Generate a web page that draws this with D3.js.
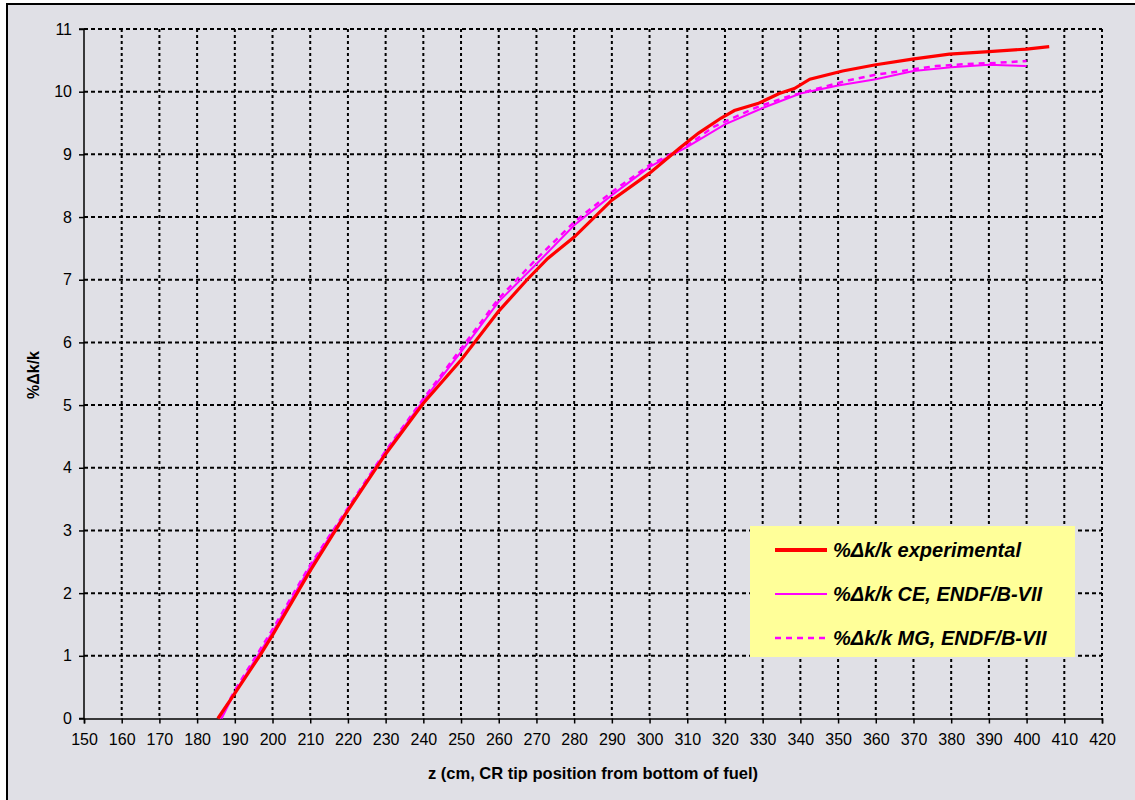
<!DOCTYPE html>
<html>
<head>
<meta charset="utf-8">
<script src="https://cdn.jsdelivr.net/npm/d3@7"></script>
<style>
html,body{margin:0;padding:0;background:#fff;}
svg{display:block;}
text{font-family:"Liberation Sans",Arial,sans-serif;}
</style>
</head>
<body>
<svg id="chart" width="1135" height="800"></svg>
<script>
// ---- data ----
const xTicks = [150,160,170,180,190,200,210,220,230,240,250,260,270,280,290,300,310,320,330,340,350,360,370,380,390,400,410,420];
const yTicks = [0,1,2,3,4,5,6,7,8,9,10,11];
const seriesNames = ["%\u0394k/k experimental", "%\u0394k/k CE, ENDF/B-VII", "%\u0394k/k MG, ENDF/B-VII"];

const expZ = [185.5,190,196.6,200,210,220,230,240,250,260,267.5,273,280,290,300,308,313,319,322.5,328.7,334.4,338.4,342.5,351.2,360,369.7,379.5,390,400,406];
const expV = [0,0.40,1.0,1.33,2.36,3.32,4.22,5.03,5.72,6.50,7.0,7.34,7.68,8.27,8.70,9.10,9.34,9.58,9.70,9.81,9.97,10.05,10.20,10.33,10.43,10.52,10.60,10.64,10.68,10.72];

const ceZ = [186.5,190,200,210,220,230,240,250,260,270,280,290,300,310,320,330,340,350,360,370,380,390,400];
const ceV = [0,0.42,1.38,2.42,3.34,4.25,5.07,5.85,6.65,7.25,7.87,8.35,8.80,9.12,9.48,9.74,9.97,10.10,10.20,10.33,10.39,10.43,10.41];

const mgZ = [186,190,200,210,220,230,240,250,260,270,280,290,300,310,317,328,336,344,352,360,368,376,384,392,400];
const mgV = [0,0.45,1.42,2.45,3.36,4.27,5.10,5.90,6.70,7.33,7.92,8.40,8.83,9.14,9.44,9.74,9.91,10.04,10.17,10.27,10.34,10.41,10.44,10.46,10.49];

// ---- layout ----
const svg = d3.select("#chart");
const L = 84, R = 1102, T = 29, B = 718.5;
const x = d3.scaleLinear().domain([150,420]).range([L,R]);
const y = d3.scaleLinear().domain([0,11]).range([B,T]);

// background + border
svg.append("rect").attr("x",7).attr("y",4).attr("width",1135).attr("height",800)
  .attr("fill","#e0e0e6").attr("stroke","#000").attr("stroke-width",2);

// grid
const grid = svg.append("g");
grid.selectAll("line.v").data(xTicks.slice(1)).enter().append("line")
  .attr("x1",d=>x(d)).attr("x2",d=>x(d)).attr("y1",T).attr("y2",B)
  .attr("stroke","#000").attr("stroke-width",2).attr("stroke-dasharray","3,3");
grid.selectAll("line.h").data(yTicks.slice(1)).enter().append("line")
  .attr("x1",L).attr("x2",R).attr("y1",d=>y(d)).attr("y2",d=>y(d))
  .attr("stroke","#000").attr("stroke-width",2).attr("stroke-dasharray","4,3");

// axes
const xAxis = d3.axisBottom(x).tickValues(xTicks).tickSize(5).tickPadding(10).tickFormat(d3.format("d"));
const yAxis = d3.axisLeft(y).tickValues(yTicks).tickSize(5).tickPadding(7).tickFormat(d3.format("d"));
const gx = svg.append("g").attr("transform",`translate(0,${B})`).call(xAxis);
const gy = svg.append("g").attr("transform",`translate(${L},0)`).call(yAxis);
[gx,gy].forEach(g=>{
  g.select(".domain").attr("stroke","#000").attr("stroke-width",1.5);
  g.selectAll(".tick line").attr("stroke","#000").attr("stroke-width",1.5);
  g.selectAll(".tick text").attr("font-size",16).attr("fill","#000")
    .attr("font-family","'Liberation Sans',Arial,sans-serif");
});
gy.select(".domain").attr("d",`M${-5},${B}H0V${T}H-5`);

// axis titles
svg.append("text").attr("x",593).attr("y",779).attr("text-anchor","middle")
  .attr("font-size",16.5).attr("font-weight","bold").text("z (cm, CR tip position from bottom of fuel)");
svg.append("text").attr("transform","translate(39,375) rotate(-90)").attr("text-anchor","middle")
  .attr("font-size",16).attr("font-weight","bold").text("%\u0394k/k");

// lines
const line = d3.line().x(d=>x(d[0])).y(d=>y(d[1]));
const expData = d3.zip(expZ,expV), ceData = d3.zip(ceZ,ceV), mgData = d3.zip(mgZ,mgV);
const plot = svg.append("g");
plot.append("path").datum(mgData).attr("d",line).attr("fill","none")
  .attr("stroke","#ff00ff").attr("stroke-width",2.5).attr("stroke-dasharray","6,5");
plot.append("path").datum(ceData).attr("d",line).attr("fill","none")
  .attr("stroke","#ff00ff").attr("stroke-width",2);
plot.append("path").datum(expData).attr("d",line).attr("fill","none")
  .attr("stroke","#ff0000").attr("stroke-width",3.2);

// legend
const lg = svg.append("g");
lg.append("rect").attr("x",750).attr("y",526).attr("width",325).attr("height",131).attr("fill","#ffff99");
const styles = [
  {stroke:"#ff0000", w:4, dash:null},
  {stroke:"#ff00ff", w:2, dash:null},
  {stroke:"#ff00ff", w:2.5, dash:"6,5"}
];
const rowY = [550,594,638];
seriesNames.forEach((n,i)=>{
  lg.append("line").attr("x1",775).attr("x2",827).attr("y1",rowY[i]).attr("y2",rowY[i])
    .attr("stroke",styles[i].stroke).attr("stroke-width",styles[i].w)
    .attr("stroke-dasharray",styles[i].dash);
  lg.append("text").attr("x",833).attr("y",rowY[i]+7).attr("font-size",20)
    .attr("font-weight","bold").attr("font-style","italic").attr("fill","#000").text(n);
});
</script>
</body>
</html>
